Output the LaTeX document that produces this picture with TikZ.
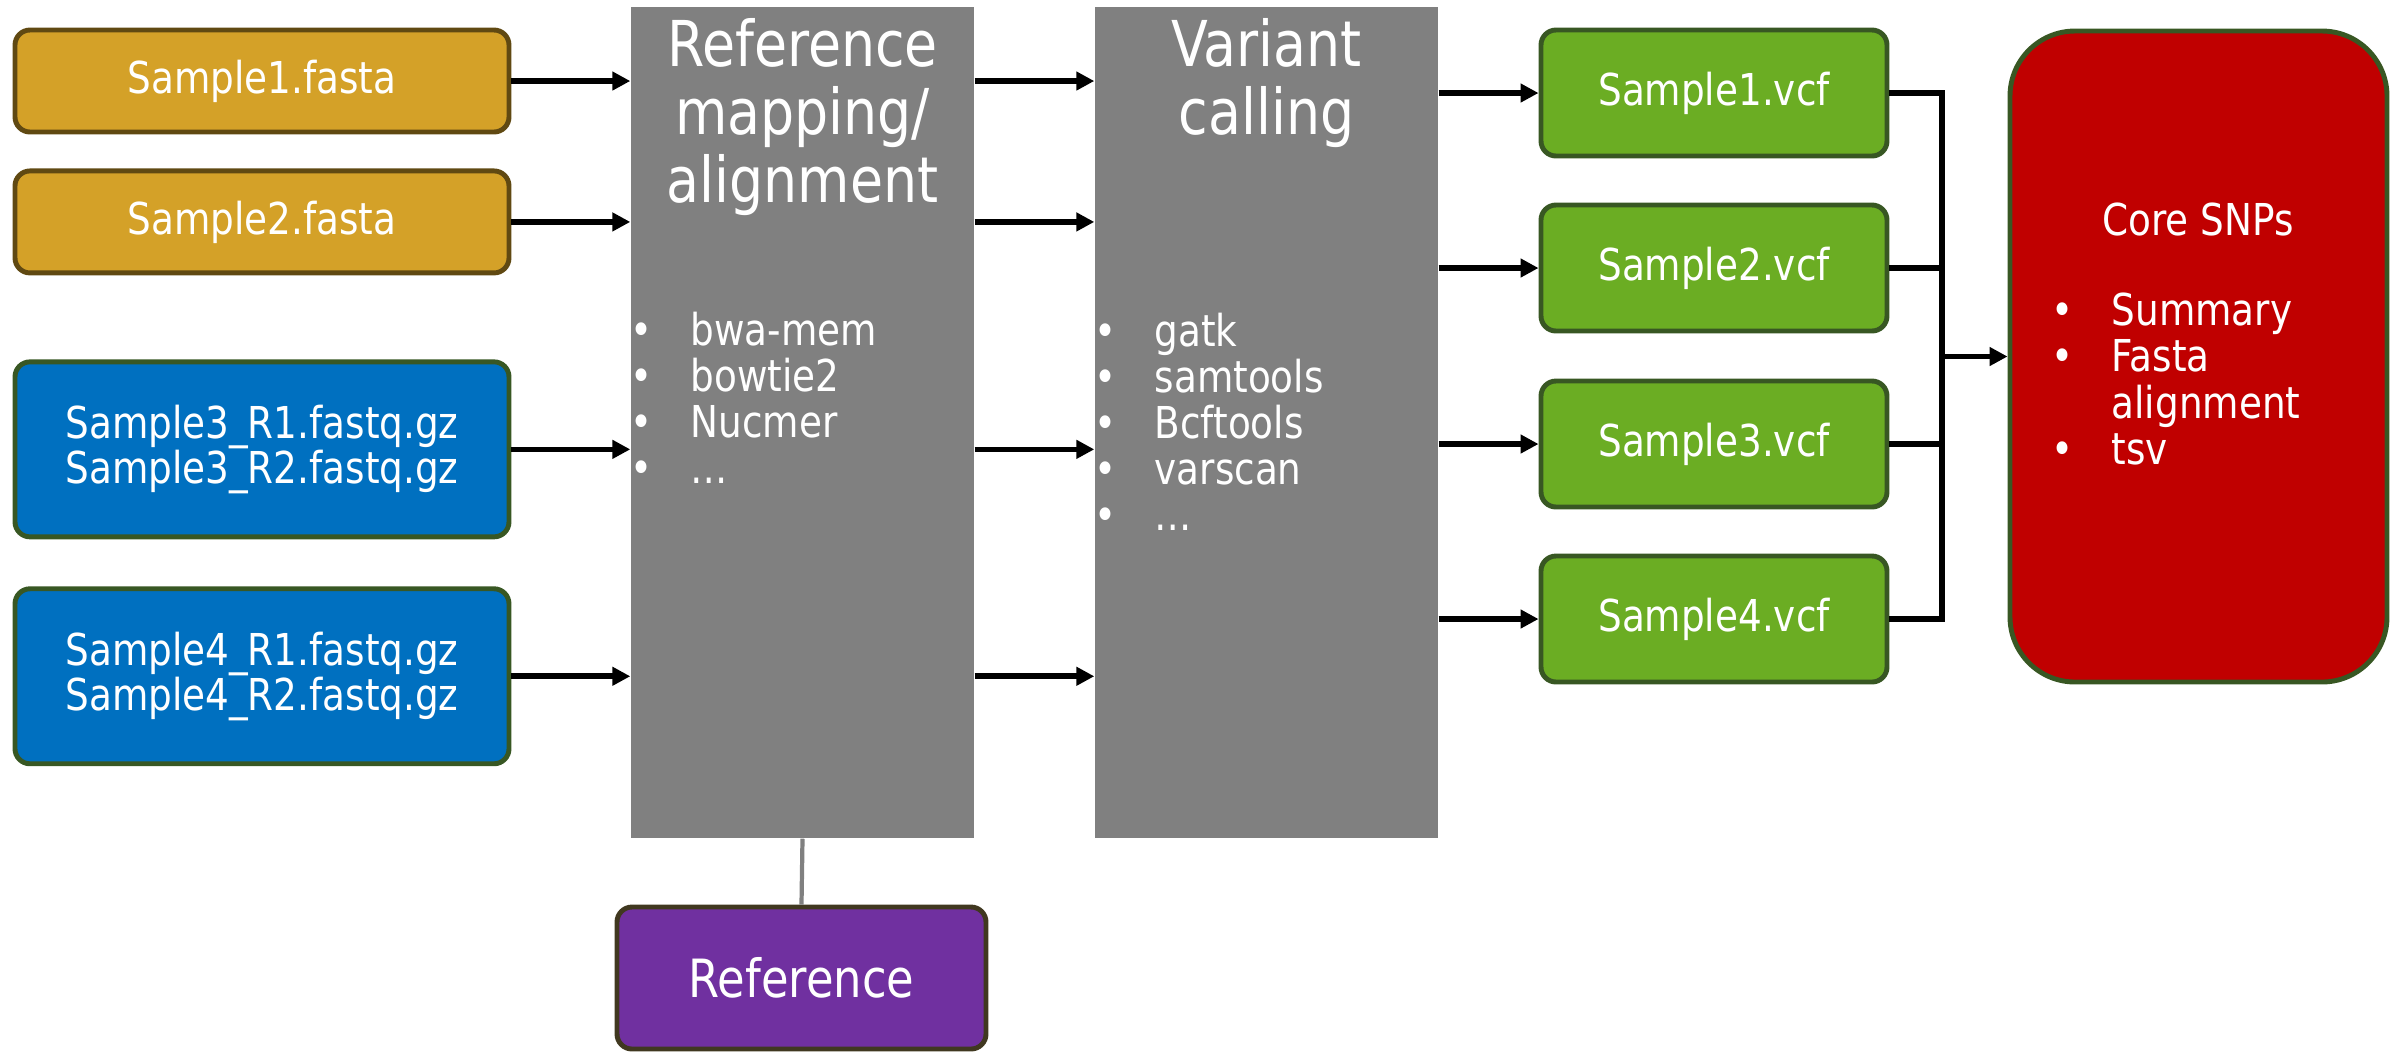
\documentclass[tikz,border=0pt]{standalone}
\usepackage{fontspec}
\setmainfont{DejaVu Sans}[FakeStretch=0.85]
\usetikzlibrary{arrows.meta, positioning}
\definecolor{fastafill}{RGB}{212,161,40}
\definecolor{fastaline}{RGB}{96,73,18}
\definecolor{fastqfill}{RGB}{0,112,192}
\definecolor{boxline}{RGB}{56,87,35}
\definecolor{vcffill}{RGB}{107,173,35}
\definecolor{corefill}{RGB}{192,0,0}
\definecolor{reffill}{RGB}{112,48,160}
\definecolor{refline}{RGB}{64,56,32}
\definecolor{toolfill}{RGB}{128,128,128}
\newcommand{\itm}{\makebox[0.6cm][l]{\textbullet}}
\tikzset{
  filebox/.style={
    rectangle, rounded corners=0.15cm, draw, line width=1.4pt,
    text=white, align=center, minimum width=4.94cm,
    font=\fontsize{12.5}{12.8}\selectfont
  },
  fasta/.style={filebox, fill=fastafill, draw=fastaline, minimum height=1.02cm},
  fastq/.style={filebox, fill=fastqfill, draw=boxline,   minimum height=1.75cm},
  vcf/.style={filebox, fill=vcffill, draw=boxline, minimum width=3.46cm, minimum height=1.26cm},
  toolbox/.style={rectangle, fill=toolfill, inner sep=0pt,
    minimum width=3.43cm, minimum height=8.31cm},
  tooltitle/.style={text=white, align=center, inner sep=0pt,
    font=\fontsize{18}{19.4}\selectfont},
  toollist/.style={text=white, align=left, anchor=west, inner sep=0pt,
    font=\fontsize{12.5}{13.1}\selectfont},
  arr/.style={-{Triangle[length=0.18cm, width=0.18cm]}, line width=1.6pt},
  lnk/.style={line width=1.6pt}
}
\begin{document}
\begin{tikzpicture}
  \useasboundingbox (0,0) rectangle (23.95,-10.55);

  % inputs
  \node[fasta] (s1) at (2.62,-0.81) {Sample1.fasta};
  \node[fasta, below=0.34cm of s1] (s2) {Sample2.fasta};
  \node[fastq, below=0.84cm of s2] (s3) {Sample3\_R1.fastq.gz\\Sample3\_R2.fastq.gz};
  \node[fastq, below=0.47cm of s3] (s4) {Sample4\_R1.fastq.gz\\Sample4\_R2.fastq.gz};

  % tools
  \node[toolbox] (map)  at (8.025,-4.225) {};
  \node[toolbox] (call) at (12.665,-4.225) {};
  \node[tooltitle] (maptitle)  at (8.025,-1.17) {Reference\\mapping/\\alignment};
  \node[tooltitle] (calltitle) at (12.665,-0.83) {Variant\\calling};
  \node[toollist] (maptools) at (6.30,-3.98)
    {\itm bwa-mem\\\itm bowtie2\\\itm Nucmer\\\itm …};
  \node[toollist] (calltools) at (10.94,-4.215)
    {\itm gatk\\\itm samtools\\\itm Bcftools\\\itm varscan\\\itm …};

  \node[filebox, fill=reffill, draw=refline, minimum width=3.69cm, minimum height=1.42cm,
        font=\fontsize{15}{16}\selectfont] (ref) at (8.015,-9.78) {Reference};

  % outputs
  \node[vcf] (v1) at (17.14,-0.93) {Sample1.vcf};
  \node[vcf] (v2) at (17.14,-2.68) {Sample2.vcf};
  \node[vcf] (v3) at (17.14,-4.44) {Sample3.vcf};
  \node[vcf] (v4) at (17.14,-6.19) {Sample4.vcf};

  \node[rectangle, rounded corners=0.65cm, fill=corefill, draw=boxline, line width=1.4pt,
        minimum width=3.77cm, minimum height=6.51cm] (core) at (21.985,-3.565) {};
  \node[text=white, font=\fontsize{12.5}{13}\selectfont] (coretitle) at (21.98,-2.19) {Core SNPs};
  \node[toollist] (coreitems) at (20.51,-3.79)
    {\itm Summary\\\itm Fasta\\\hspace{0.6cm}alignment\\\itm tsv};

  \coordinate (bus) at (19.42,-3.565);

  \draw[arr] (s1) -- (map.west |- s1);
  \draw[arr] (s2) -- (map.west |- s2);
  \draw[arr] (s3) -- (map.west |- s3);
  \draw[arr] (s4) -- (map.west |- s4);

  \draw[arr] (map.east |- s1) -- (call.west |- s1);
  \draw[arr] (map.east |- s2) -- (call.west |- s2);
  \draw[arr] (map.east |- s3) -- (call.west |- s3);
  \draw[arr] (map.east |- s4) -- (call.west |- s4);

  \draw[arr] (call.east |- v1) -- (v1);
  \draw[arr] (call.east |- v2) -- (v2);
  \draw[arr] (call.east |- v3) -- (v3);
  \draw[arr] (call.east |- v4) -- (v4);

  \draw[lnk] (v1.east) -| (bus) |- (v4.east);
  \draw[lnk] (v2.east) -- (v2.east -| bus);
  \draw[lnk] (v3.east) -- (v3.east -| bus);
  \draw[arr] (bus) -- (core);

  \draw[line width=1.2pt, toolfill] (map.south) -- (ref.north);
\end{tikzpicture}
\end{document}
